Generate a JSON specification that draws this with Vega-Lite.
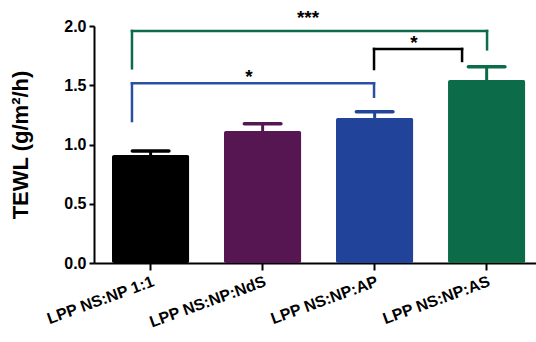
{
  "$schema": "https://vega.github.io/schema/vega-lite/v6.json",
  "width": 442,
  "height": 237,
  "autosize": {"type": "none"},
  "padding": {"left": 94, "top": 26, "right": 0, "bottom": 79},
  "background": "white",
  "config": {
    "view": {"stroke": null},
    "font": "Liberation Sans",
    "axis": {"grid": false, "domainColor": "black", "domainWidth": 2, "tickColor": "black", "tickWidth": 2, "labelColor": "black", "titleColor": "black", "labelFontWeight": "bold", "titleFontWeight": "bold"}
  },
  "layer": [
    {
      "data": {"values": [
        {"group": "LPP NS:NP 1:1", "mean": 0.911, "upper": 0.945},
        {"group": "LPP NS:NP:NdS", "mean": 1.114, "upper": 1.176},
        {"group": "LPP NS:NP:AP", "mean": 1.224, "upper": 1.277},
        {"group": "LPP NS:NP:AS", "mean": 1.544, "upper": 1.657}
      ]},
      "encoding": {
        "x": {"field": "group", "type": "nominal", "sort": null,
          "scale": {"paddingInner": 0.31, "paddingOuter": 0.128, "align": 0.627},
          "axis": {"title": null, "labelAngle": -20, "labelAlign": "right", "labelBaseline": "top", "labelFontSize": 16, "labelPadding": 3, "tickSize": 7}},
        "color": {"field": "group", "type": "nominal", "legend": null,
          "scale": {"domain": ["LPP NS:NP 1:1", "LPP NS:NP:NdS", "LPP NS:NP:AP", "LPP NS:NP:AS"], "range": ["#000000", "#561651", "#21449a", "#0c6b48"]}}
      },
      "layer": [
        {"mark": {"type": "bar", "cornerRadius": 2},
          "encoding": {"y": {"field": "mean", "type": "quantitative",
            "scale": {"domain": [0, 2], "nice": false},
            "axis": {"values": [0, 0.5, 1, 1.5, 2], "format": ".1f", "labelFontSize": 16, "labelPadding": 3, "tickSize": 5, "title": "TEWL (g/m²/h)", "titleFontSize": 22, "titlePadding": 31}}}},
        {"mark": {"type": "rule", "strokeWidth": 3},
          "encoding": {"y": {"field": "mean", "type": "quantitative"}, "y2": {"field": "upper"}}},
        {"mark": {"type": "tick", "thickness": 3.5, "size": 40, "cornerRadius": 2, "opacity": 1},
          "encoding": {"y": {"field": "upper", "type": "quantitative"}}}
      ]
    },
    {
      "layer": [
        {
          "data": {"values": [
            {"comp": "AS vs 1:1", "x": -0.161, "x2": 3.009, "y": 1.958, "y2": 1.958},
            {"comp": "AS vs 1:1", "x": -0.161, "x2": -0.161, "y": 1.643, "y2": 1.958},
            {"comp": "AS vs 1:1", "x": 3.009, "x2": 3.009, "y": 1.803, "y2": 1.958},
            {"comp": "AP vs 1:1", "x": -0.161, "x2": 2.0, "y": 1.516, "y2": 1.516},
            {"comp": "AP vs 1:1", "x": -0.161, "x2": -0.161, "y": 1.198, "y2": 1.516},
            {"comp": "AP vs 1:1", "x": 2.0, "x2": 2.0, "y": 1.403, "y2": 1.516},
            {"comp": "AS vs AP", "x": 2.0, "x2": 2.786, "y": 1.806, "y2": 1.806},
            {"comp": "AS vs AP", "x": 2.0, "x2": 2.0, "y": 1.637, "y2": 1.806},
            {"comp": "AS vs AP", "x": 2.786, "x2": 2.786, "y": 1.705, "y2": 1.806}
          ]},
          "mark": {"type": "rule", "strokeWidth": 2.5, "strokeCap": "square"},
          "encoding": {
            "x": {"field": "x", "type": "quantitative", "scale": {"domain": [-0.5, 3.446], "nice": false, "zero": false}, "axis": null},
            "x2": {"field": "x2"},
            "y": {"field": "y", "type": "quantitative"},
            "y2": {"field": "y2"},
            "color": {"field": "comp", "type": "nominal", "legend": null,
              "scale": {"domain": ["AS vs 1:1", "AP vs 1:1", "AS vs AP"], "range": ["#0c6b48", "#2a4fa3", "#000000"]}}
          }
        },
        {
          "data": {"values": [
            {"label": "***", "x": 1.411, "y": 2.013},
            {"label": "*", "x": 0.884, "y": 1.519},
            {"label": "*", "x": 2.357, "y": 1.806}
          ]},
          "mark": {"type": "text", "fontSize": 19, "fontWeight": "bold", "align": "center", "baseline": "alphabetic", "color": "black"},
          "encoding": {
            "x": {"field": "x", "type": "quantitative", "scale": {"domain": [-0.5, 3.446], "nice": false, "zero": false}, "axis": null},
            "y": {"field": "y", "type": "quantitative"},
            "text": {"field": "label"}
          }
        }
      ]
    }
  ],
  "resolve": {"scale": {"x": "independent", "color": "independent"}}
}
